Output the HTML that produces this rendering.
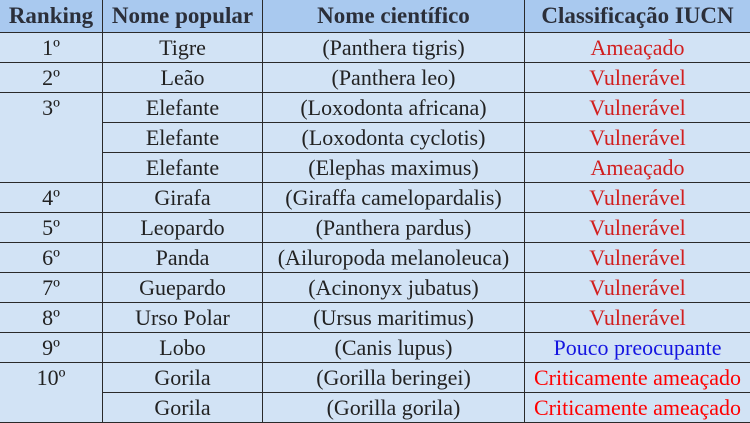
<!DOCTYPE html>
<html><head><meta charset="utf-8"><style>
html,body{margin:0;padding:0;background:#fff;}
body{width:750px;height:423px;overflow:hidden;}
table{border-collapse:collapse;table-layout:fixed;width:751px;margin-left:-1px;font-family:"Liberation Serif",serif;font-size:22px;color:#222;}
td,th{border:1px solid #2a2a2a;text-align:center;padding:0;height:29px;line-height:29px;background:#d2e3f5;white-space:nowrap;overflow:hidden;}
th{background:#a9c9ef;font-weight:bold;color:#2b2f3a;height:32px;line-height:32px;border-top:none;font-size:23px;}
td.rk{vertical-align:top;}
.r{color:#d11f1f}.cr{color:#f00}.b{color:#1515e0}
</style></head><body>
<table>
<colgroup><col style="width:103px"><col style="width:160px"><col style="width:262px"><col style="width:226px"></colgroup>
<tr><th>Ranking</th><th>Nome popular</th><th>Nome científico</th><th>Classificação IUCN</th></tr>
<tr><td>1º</td><td>Tigre</td><td>(Panthera tigris)</td><td class="r">Ameaçado</td></tr>
<tr><td>2º</td><td>Leão</td><td>(Panthera leo)</td><td class="r">Vulnerável</td></tr>
<tr><td class="rk" rowspan="3">3º</td><td>Elefante</td><td>(Loxodonta africana)</td><td class="r">Vulnerável</td></tr>
<tr><td>Elefante</td><td>(Loxodonta cyclotis)</td><td class="r">Vulnerável</td></tr>
<tr><td>Elefante</td><td>(Elephas maximus)</td><td class="r">Ameaçado</td></tr>
<tr><td>4º</td><td>Girafa</td><td>(Giraffa camelopardalis)</td><td class="r">Vulnerável</td></tr>
<tr><td>5º</td><td>Leopardo</td><td>(Panthera pardus)</td><td class="r">Vulnerável</td></tr>
<tr><td>6º</td><td>Panda</td><td>(Ailuropoda melanoleuca)</td><td class="r">Vulnerável</td></tr>
<tr><td>7º</td><td>Guepardo</td><td>(Acinonyx jubatus)</td><td class="r">Vulnerável</td></tr>
<tr><td>8º</td><td>Urso Polar</td><td>(Ursus maritimus)</td><td class="r">Vulnerável</td></tr>
<tr><td>9º</td><td>Lobo</td><td>(Canis lupus)</td><td class="b">Pouco preocupante</td></tr>
<tr><td class="rk" rowspan="2">10º</td><td>Gorila</td><td>(Gorilla beringei)</td><td class="cr">Criticamente ameaçado</td></tr>
<tr><td>Gorila</td><td>(Gorilla gorila)</td><td class="cr">Criticamente ameaçado</td></tr>
</table>
</body></html>
